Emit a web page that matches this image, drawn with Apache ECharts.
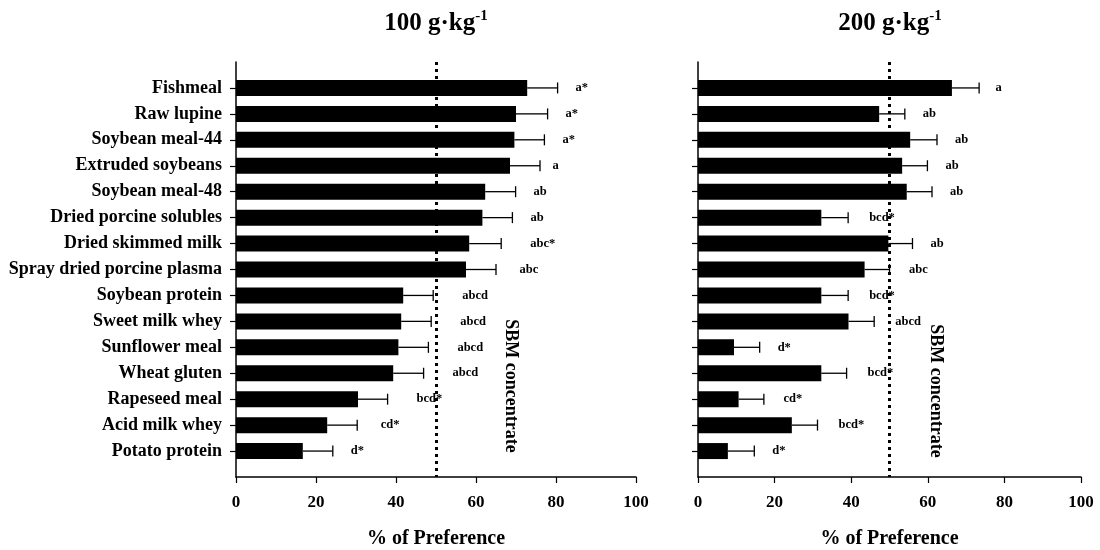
<!DOCTYPE html>
<html>
<head>
<meta charset="utf-8">
<script src="https://cdn.jsdelivr.net/npm/echarts@6/dist/echarts.min.js"></script>
<style>html,body{margin:0;padding:0;background:#fff}#c{width:1100px;height:550px}</style>
</head>
<body>
<div id="c"></div>
<script>
const categories = ['Fishmeal','Raw lupine','Soybean meal-44','Extruded soybeans','Soybean meal-48','Dried porcine solubles','Dried skimmed milk','Spray dried porcine plasma','Soybean protein','Sweet milk whey','Sunflower meal','Wheat gluten','Rapeseed meal','Acid milk whey','Potato protein'];
const values100 = [72.8, 70.0, 69.6, 68.5, 62.3, 61.6, 58.3, 57.5, 41.8, 41.3, 40.6, 39.3, 30.5, 22.8, 16.7];
const errors100 = [7.6, 7.9, 7.5, 7.5, 7.6, 7.5, 8.0, 7.5, 7.5, 7.5, 7.5, 7.6, 7.4, 7.5, 7.5];
const letters100 = ['a*','a*','a*','a','ab','ab','abc*','abc','abcd','abcd','abcd','abcd','bcd*','cd*','d*'];
const values200 = [66.3, 47.3, 55.4, 53.3, 54.5, 32.2, 49.7, 43.5, 32.2, 39.3, 9.4, 32.2, 10.6, 24.5, 7.8];
const errors200 = [7.1, 6.7, 7.0, 6.6, 6.6, 7.0, 6.3, 6.5, 7.0, 6.7, 6.7, 6.6, 6.6, 6.7, 6.9];
const letters200 = ['a','ab','ab','ab','ab','bcd*','ab','abc','bcd*','abcd','d*','bcd*','cd*','bcd*','d*'];
const xTicks = [0, 20, 40, 60, 80, 100];
const refValue = 50;
const refLabel = 'SBM concentrate';
const titles = ['100 g·kg', '200 g·kg'];
const titleSup = '-1';
const axisTitle = '% of Preference';

const FONT = 'Liberation Serif';
const yData = [''].concat(categories, ['']);
const pad = a => [null].concat(a, [null]);

function yAxisFor(idx, showLabels) {
  return {
    type: 'category', gridIndex: idx, data: yData, inverse: true, boundaryGap: false,
    axisLine: { lineStyle: { color: '#000', width: 1.5 } },
    axisTick: { length: 6, lineStyle: { color: '#000', width: 1.2 }, interval: (i) => i > 0 && i < yData.length - 1 },
    axisLabel: { show: showLabels, interval: 0, margin: 14, color: '#000', fontFamily: FONT, fontWeight: 'bold', fontSize: 18 },
    splitLine: { show: false }
  };
}
function xAxisFor(idx) {
  return {
    type: 'value', gridIndex: idx, min: xTicks[0], max: xTicks[xTicks.length - 1], interval: xTicks[1] - xTicks[0],
    axisLine: { show: true, lineStyle: { color: '#000', width: 1.5 } },
    axisTick: { show: true, length: 6, lineStyle: { color: '#000', width: 1.2 } },
    axisLabel: { color: '#000', fontFamily: FONT, fontWeight: 'bold', fontSize: 17, margin: 17 },
    splitLine: { show: false },
    name: axisTitle, nameLocation: 'middle', nameGap: 52,
    nameTextStyle: { color: '#000', fontFamily: FONT, fontWeight: 'bold', fontSize: 20 }
  };
}
function errSeries(idx, vals, errs, letters, offFn) {
  return {
    type: 'custom', xAxisIndex: idx, yAxisIndex: idx, clip: false, z: 5,
    data: vals.map((v, i) => [v, i + 1, errs[i]]),
    encode: { x: 0, y: 1 },
    renderItem: function (params, api) {
      const v = api.value(0), c = api.value(1), e = api.value(2);
      const p0 = api.coord([v, c]);
      const p1 = api.coord([v + e, c]);
      const lab = letters[params.dataIndex];
      return {
        type: 'group',
        children: [
          { type: 'line', shape: { x1: p0[0], y1: p0[1], x2: p1[0], y2: p1[1] }, style: { stroke: '#000', lineWidth: 1.3 } },
          { type: 'line', shape: { x1: p1[0], y1: p1[1] - 5.5, x2: p1[0], y2: p1[1] + 5.5 }, style: { stroke: '#000', lineWidth: 1.3 } },
          { type: 'text', x: p1[0] + offFn(lab), y: p1[1], style: { text: lab, fill: '#000', font: 'bold 12.5px "' + FONT + '"', align: 'left', verticalAlign: 'middle' } }
        ]
      };
    }
  };
}
function barSeries(idx, vals) {
  return {
    type: 'bar', xAxisIndex: idx, yAxisIndex: idx, data: pad(vals), barWidth: 16,
    itemStyle: { color: '#000' }, silent: true,
    markLine: {
      silent: true, symbol: 'none', label: { show: false },
      lineStyle: { color: '#000', width: 3, type: [3, 4] },
      data: [{ xAxis: refValue }]
    }
  };
}
const richTitle = {
  a: { font: 'bold 25px "' + FONT + '"', fill: '#000', lineHeight: 30 },
  s: { font: 'bold 15px "' + FONT + '"', fill: '#000', verticalAlign: 'top', lineHeight: 30 }
};

const chart = echarts.init(document.getElementById('c'));
chart.setOption({
  animation: false,
  textStyle: { fontFamily: FONT },
  grid: [
    { left: 236, right: 464, top: 62, bottom: 73, outerBoundsMode: 'none', containLabel: false },
    { left: 698, right: 19, top: 62, bottom: 73, outerBoundsMode: 'none', containLabel: false }
  ],
  xAxis: [xAxisFor(0), xAxisFor(1)],
  yAxis: [yAxisFor(0, true), yAxisFor(1, false)],
  series: [
    barSeries(0, values100),
    errSeries(0, values100, errors100, letters100, l => 7 + 5.5 * l.length),
    barSeries(1, values200),
    errSeries(1, values200, errors200, letters200, l => 15 + 1.5 * l.length)
  ],
  graphic: [
    { type: 'text', x: 436, y: 24, style: { text: '{a|' + titles[0] + '}{s|' + titleSup + '}', align: 'center', verticalAlign: 'middle', rich: richTitle } },
    { type: 'text', x: 890, y: 24, style: { text: '{a|' + titles[1] + '}{s|' + titleSup + '}', align: 'center', verticalAlign: 'middle', rich: richTitle } },
    { type: 'text', x: 511, y: 386, rotation: -Math.PI / 2, style: { text: refLabel, font: 'bold 18px "' + FONT + '"', fill: '#000', align: 'center', verticalAlign: 'middle' } },
    { type: 'text', x: 936, y: 391, rotation: -Math.PI / 2, style: { text: refLabel, font: 'bold 18px "' + FONT + '"', fill: '#000', align: 'center', verticalAlign: 'middle' } }
  ]
});
</script>
</body>
</html>
